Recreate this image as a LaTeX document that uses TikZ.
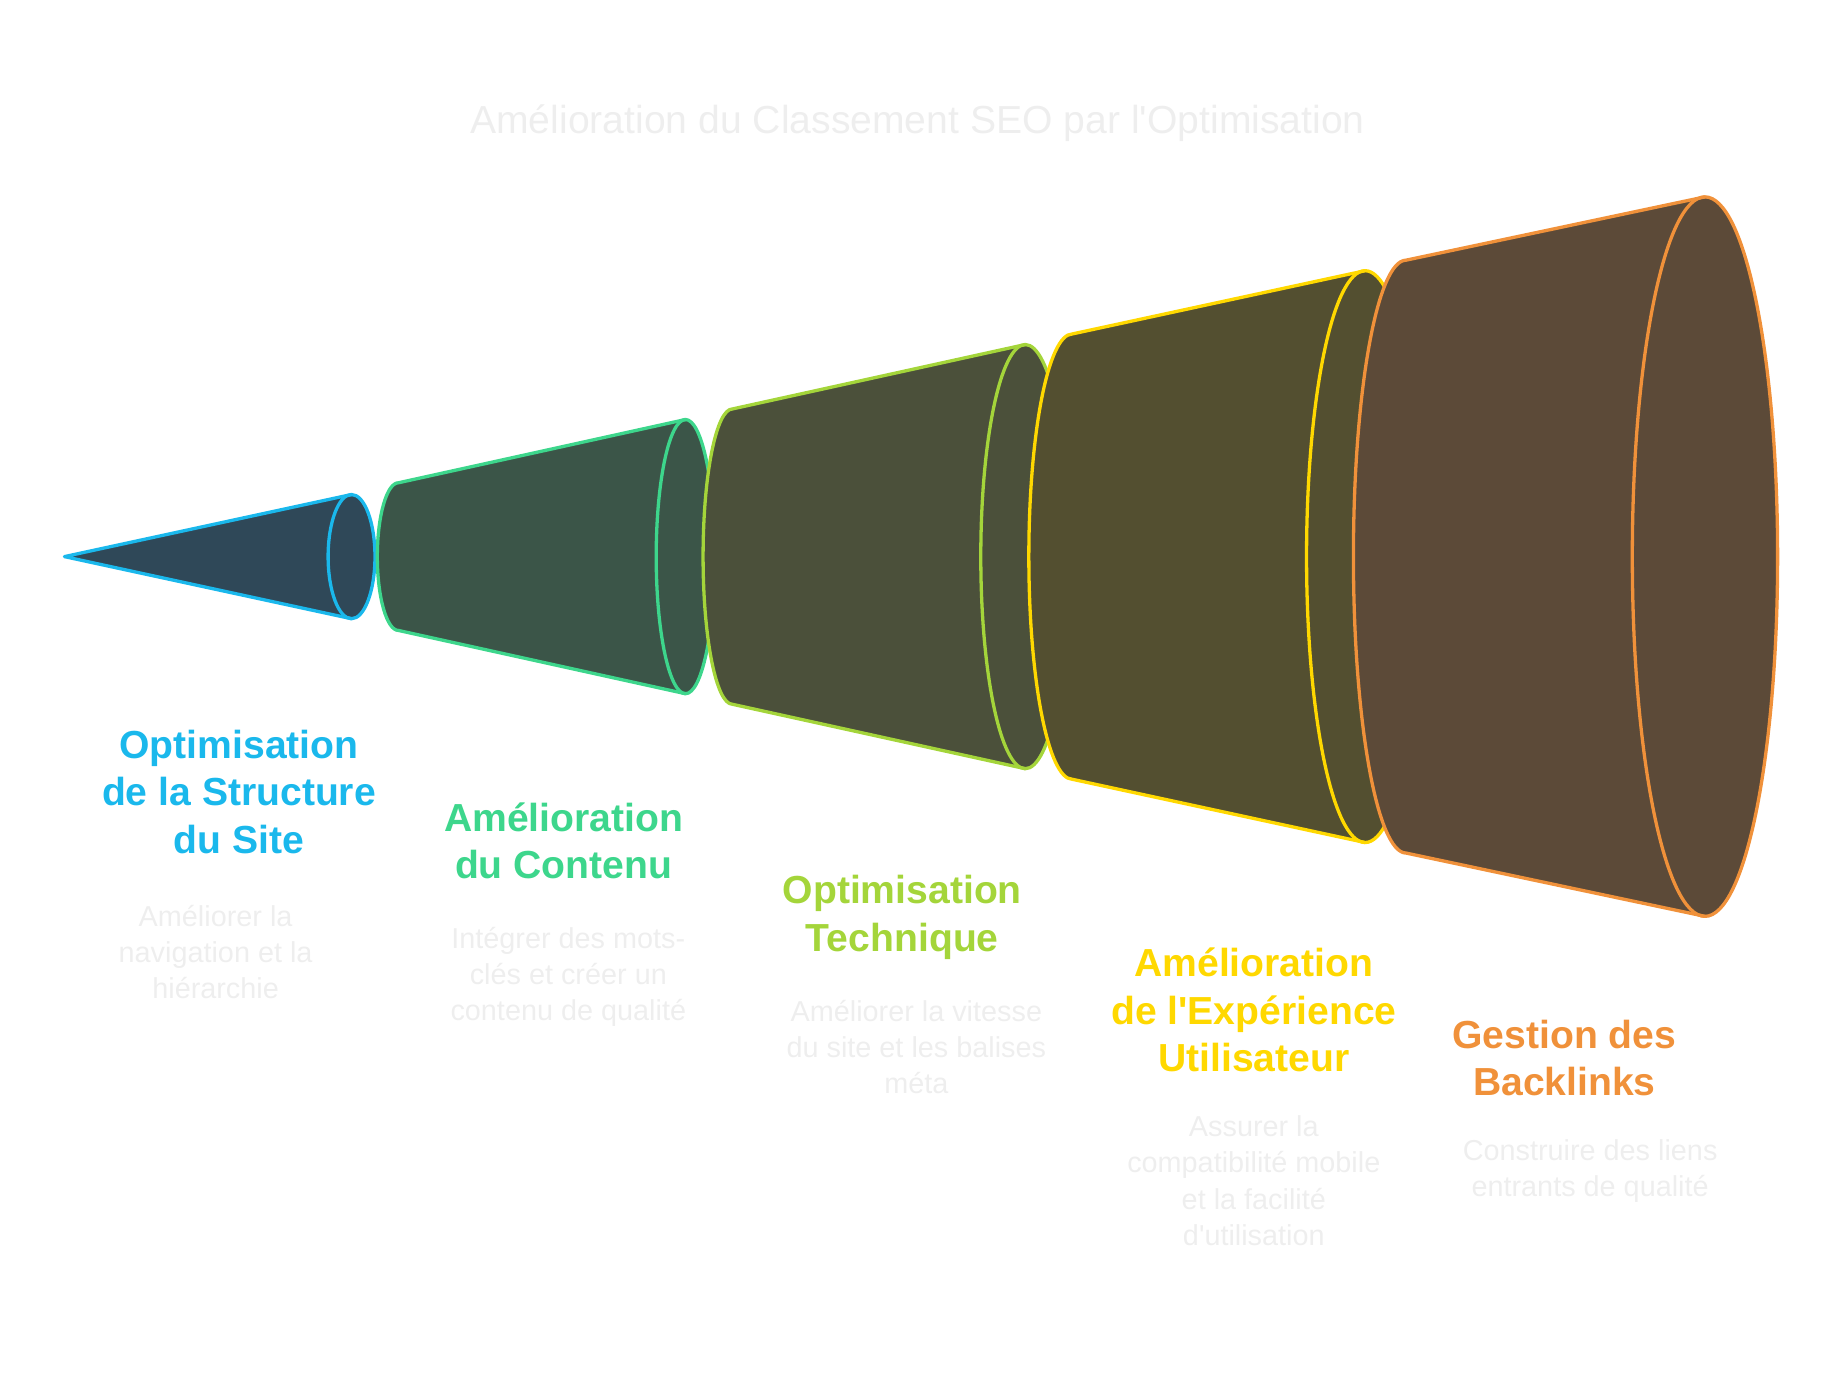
\documentclass[tikz,border=0pt]{standalone}
\usepackage{fontspec}
\setmainfont{Liberation Sans}
\definecolor{cyanline}{HTML}{1AB8EC}
\definecolor{greenline}{HTML}{3DD68C}
\definecolor{limeline}{HTML}{A4D53A}
\definecolor{yellowline}{HTML}{FFD800}
\definecolor{orangeline}{HTML}{F0913A}
\definecolor{faint}{HTML}{EEEEEE}
\definecolor{conefill}{HTML}{2F4858}
\definecolor{contentfill}{HTML}{3B5548}
\definecolor{techfill}{HTML}{4B503A}
\definecolor{uxfill}{HTML}{534F30}
\definecolor{linkfill}{HTML}{5C4A38}
\tikzset{
  head/.style={font=\fontsize{19}{23}\selectfont\bfseries, align=center, anchor=north},
  desc/.style={font=\fontsize{14}{17.6}\selectfont, text=faint, align=center, anchor=north},
  rim/.style={line width=1.6pt, line join=round},
}
% segment: colour, fill, left x, left rx, left ry, right x, right rx, right ry
\newcommand{\funnelseg}[8]{%
  \fill[#2] (#3,-475+#5) arc[start angle=90, end angle=270, x radius=#4, y radius=#5]
    -- (#6,-475-#8) arc[start angle=-90, end angle=90, x radius=#7, y radius=#8] -- cycle;
  \draw[rim, #1] (#3,-475+#5) arc[start angle=90, end angle=270, x radius=#4, y radius=#5]
    -- (#6,-475-#8) (#3,-475+#5) -- (#6,-475+#8);
  \draw[rim, #1] (#6,-475) ellipse[x radius=#7, y radius=#8];
}
\begin{document}
\begin{tikzpicture}[x=0.02cm, y=0.02cm]
  \useasboundingbox (0,0) rectangle (1560,-1191);
  \node[font=\fontsize{19}{23}\selectfont, text=faint] (title) at (783,-105) {Amélioration du Classement SEO par l\textquotesingle Optimisation};

  % cone
  \fill[conefill] (55,-475) -- (300,-422) arc[start angle=90, end angle=-90, x radius=20, y radius=53] -- cycle;
  \draw[rim, cyanline] (300,-422) -- (55,-475) -- (300,-528);
  \draw[rim, cyanline] (300,-475) ellipse[x radius=20, y radius=53];

  \funnelseg{greenline}{contentfill}{340}{18}{63}{585}{25}{117}
  \funnelseg{limeline}{techfill}{625}{25}{126}{875}{38}{181}
  \funnelseg{yellowline}{uxfill}{915}{37}{190}{1165}{50}{244}
  \funnelseg{orangeline}{linkfill}{1200}{45}{253}{1455}{62}{307}

  \node[head, text=cyanline] (h1) at (204,-617) {Optimisation\\de la Structure\\du Site};
  \node[desc] (d1) at (184,-766) {Améliorer la\\navigation et la\\hiérarchie};
  \node[head, text=greenline] (h2) at (481,-679) {Amélioration\\du Contenu};
  \node[desc] (d2) at (485,-785) {Intégrer des mots-\\clés et créer un\\contenu de qualité};
  \node[head, text=limeline] (h3) at (770,-741) {Optimisation\\Technique};
  \node[desc] (d3) at (782,-847) {Améliorer la vitesse\\du site et les balises\\méta};
  \node[head, text=yellowline] (h4) at (1070,-803) {Amélioration\\de l\textquotesingle Expérience\\Utilisateur};
  \node[desc] (d4) at (1070,-946) {Assurer la\\compatibilité mobile\\et la facilité\\d\textquotesingle utilisation};
  \node[head, text=orangeline] (h5) at (1335,-864) {Gestion des\\Backlinks};
  \node[desc] (d5) at (1357,-966) {Construire des liens\\entrants de qualité};
\end{tikzpicture}
\end{document}
